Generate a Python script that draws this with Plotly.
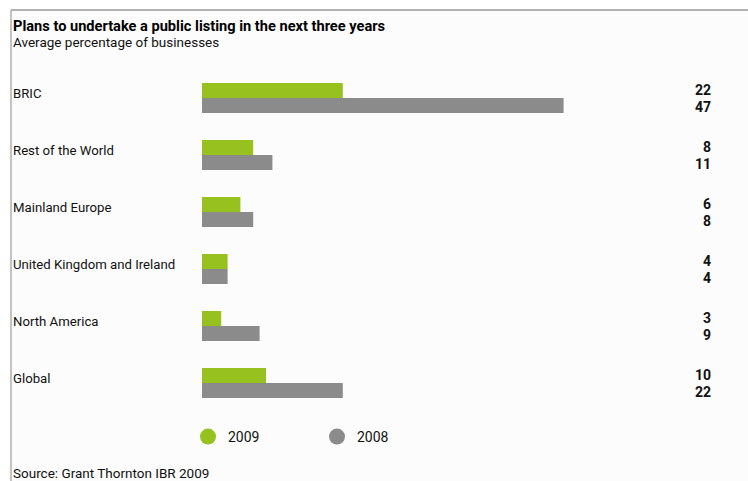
import plotly.graph_objects as go

categories = ["BRIC", "Rest of the World", "Mainland Europe",
              "United Kingdom and Ireland", "North America", "Global"]
values_2009 = [22, 8, 6, 4, 3, 10]
values_2008 = [47, 11, 8, 4, 9, 22]
# bar lengths as drawn in the source picture (BRIC 2008 is drawn longer than its label)
bars_2009 = [22, 8, 6, 4, 3, 10]
bars_2008 = [56.5, 11, 8, 4, 9, 22]

GREEN = "#96c11e"
GREY = "#8b8b8b"
FONT = "Roboto, Liberation Sans, sans-serif"
W, H = 748, 481

fig = go.Figure()
fig.add_trace(go.Bar(y=categories, x=bars_2009, orientation="h", name="2009",
                     marker=dict(color=GREEN, line=dict(width=0)), showlegend=False))
fig.add_trace(go.Bar(y=categories, x=bars_2008, orientation="h", name="2008",
                     marker=dict(color=GREY, line=dict(width=0)), showlegend=False))
fig.add_trace(go.Scatter(x=[None], y=[None], mode="markers", name="2009",
                         marker=dict(color=GREEN, size=16, symbol="circle")))
fig.add_trace(go.Scatter(x=[None], y=[None], mode="markers", name="2008",
                         marker=dict(color=GREY, size=16, symbol="circle")))

ann = []
for c, v9, v8 in zip(categories, values_2009, values_2008):
    ann.append(dict(x=11 / W, xref="paper", y=c, yref="y", text=c, showarrow=False,
                    xanchor="left", yanchor="middle", yshift=5,
                    font=dict(family=FONT, size=13.2, color="#111")))
    ann.append(dict(x=713 / W, xref="paper", y=c, yref="y", text=f"<b>{v9}</b>",
                    showarrow=False, xanchor="right", yanchor="middle", yshift=8,
                    font=dict(family=FONT, size=14, color="#111")))
    ann.append(dict(x=713 / W, xref="paper", y=c, yref="y", text=f"<b>{v8}</b>",
                    showarrow=False, xanchor="right", yanchor="middle", yshift=-9,
                    font=dict(family=FONT, size=14, color="#111")))

ann.append(dict(x=11 / W, xref="paper", y=1 - 26 / H, yref="paper",
                text="<b>Plans to undertake a public listing in the next three years</b>",
                showarrow=False, xanchor="left", yanchor="middle",
                font=dict(family=FONT, size=14.6, color="#000")))
ann.append(dict(x=11 / W, xref="paper", y=1 - 42 / H, yref="paper",
                text="Average percentage of businesses",
                showarrow=False, xanchor="left", yanchor="middle",
                font=dict(family=FONT, size=13.5, color="#111")))
ann.append(dict(x=11 / W, xref="paper", y=1 - 473 / H, yref="paper",
                text="Source: Grant Thornton IBR 2009",
                showarrow=False, xanchor="left", yanchor="middle",
                font=dict(family=FONT, size=13.5, color="#111")))

shapes = [
    dict(type="rect", xref="paper", yref="paper", x0=11 / W, x1=1, y0=0, y1=1 - 10 / H,
         fillcolor="#fcfcfc", line=dict(width=0), layer="below"),
    dict(type="line", xref="paper", yref="paper", x0=11 / W, x1=1, y0=1 - 10 / H, y1=1 - 10 / H,
         line=dict(color="#9a9a9a", width=1.5), layer="below"),
    dict(type="line", xref="paper", yref="paper", x0=11 / W, x1=11 / W, y0=0, y1=1 - 10 / H,
         line=dict(color="#b0b0b0", width=1.5), layer="below"),
]

fig.update_layout(
    width=W, height=H,
    margin=dict(l=0, r=0, t=0, b=0),
    paper_bgcolor="white", plot_bgcolor="rgba(0,0,0,0)",
    barmode="group", bargap=0.47, bargroupgap=0,
    xaxis=dict(domain=[202 / W, 714 / W], range=[0, 80], visible=False, fixedrange=True),
    yaxis=dict(domain=[1 - 411.5 / H, 1 - 69.5 / H], autorange="reversed",
               visible=False, fixedrange=True),
    annotations=ann, shapes=shapes,
    legend=dict(orientation="h", x=188 / W, xanchor="left", y=1 - 437 / H, yanchor="middle",
                font=dict(family=FONT, size=14, color="#111"), bgcolor="rgba(0,0,0,0)",
                entrywidth=84, itemclick=False, itemdoubleclick=False),
    font=dict(family=FONT),
)

fig.write_html("out.html")
